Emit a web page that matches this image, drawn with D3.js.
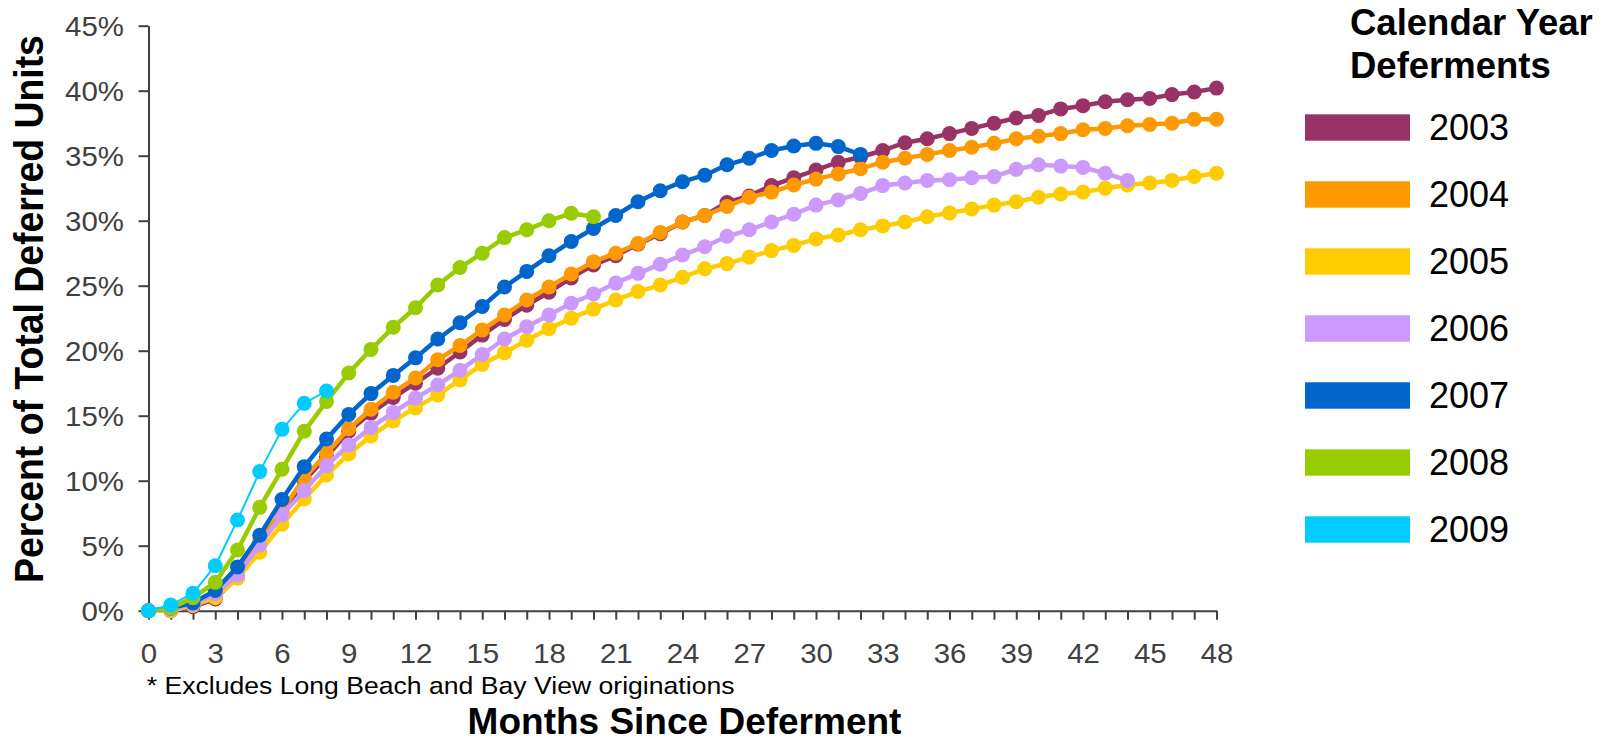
<!DOCTYPE html>
<html>
<head>
<meta charset="utf-8">
<script src="https://cdn.jsdelivr.net/npm/d3@7"></script>
<style>
  body { margin: 0; background: #fff; }
  text { font-family: "Liberation Sans", Arial, sans-serif; }
</style>
</head>
<body>
<div id="chart"></div>
<script>
// cumulative percent of total deferred units, one value per month since deferment
var years = ["2003", "2004", "2005", "2006", "2007", "2008", "2009"];

var pct2003 = [0, 0, 0.3, 0.9, 2.6, 5.2, 7.5, 10.0, 11.85, 13.8,
  15.2, 16.4, 17.5, 18.65, 19.9, 21.2, 22.4, 23.5, 24.5, 25.6,
  26.6, 27.3, 28.2, 29.0, 29.9, 30.4, 31.4, 31.9, 32.7, 33.3,
  33.9, 34.5, 34.9, 35.4, 36.0, 36.3, 36.7, 37.1, 37.5, 37.9,
  38.1, 38.6, 38.85, 39.15, 39.3, 39.4, 39.7, 39.9, 40.2];
var pct2004 = [0, 0.1, 0.45, 1.1, 2.8, 5.4, 7.7, 10.2, 12.1, 14.0,
  15.5, 16.8, 17.9, 19.3, 20.4, 21.6, 22.75, 23.9, 24.9, 25.9,
  26.85, 27.5, 28.25, 29.1, 29.9, 30.4, 31.1, 31.8, 32.2, 32.75,
  33.2, 33.6, 34.0, 34.5, 34.8, 35.1, 35.4, 35.65, 35.95, 36.3,
  36.5, 36.7, 37.0, 37.1, 37.3, 37.4, 37.5, 37.8, 37.8];
var pct2005 = [0, 0, 0.4, 1.0, 2.5, 4.5, 6.65, 8.6, 10.44, 12.05,
  13.44, 14.6, 15.6, 16.6, 17.75, 18.95, 19.85, 20.8, 21.7, 22.5,
  23.2, 23.9, 24.55, 25.05, 25.65, 26.3, 26.7, 27.2, 27.7, 28.1,
  28.6, 28.9, 29.3, 29.6, 29.9, 30.3, 30.6, 30.9, 31.2, 31.46,
  31.8, 32.05, 32.2, 32.5, 32.75, 32.9, 33.1, 33.4, 33.65];
var pct2006 = [0, 0.1, 0.5, 1.3, 2.75, 5.05, 7.36, 9.23, 11.15, 12.75,
  14.1, 15.25, 16.35, 17.36, 18.5, 19.7, 20.9, 21.85, 22.75, 23.65,
  24.36, 25.2, 25.95, 26.65, 27.36, 28.0, 28.8, 29.3, 29.9, 30.5,
  31.2, 31.6, 32.1, 32.7, 32.9, 33.1, 33.15, 33.3, 33.4, 33.95,
  34.3, 34.2, 34.1, 33.65, 33.1];
var pct2007 = [0, 0.2, 0.6, 1.55, 3.37, 5.8, 8.55, 11.08, 13.2, 15.1,
  16.7, 18.1, 19.45, 20.9, 22.15, 23.4, 24.9, 26.1, 27.3, 28.4,
  29.4, 30.4, 31.46, 32.3, 33.0, 33.5, 34.3, 34.8, 35.4, 35.75,
  35.95, 35.7, 35.1];
var pct2008 = [0, 0.2, 1.0, 2.18, 4.67, 7.95, 10.88, 13.8, 16.1, 18.28,
  20.1, 21.8, 23.3, 25.05, 26.4, 27.5, 28.7, 29.3, 30.0, 30.57,
  30.3];
var pct2009 = [0, 0.44, 1.34, 3.46, 6.98, 10.7, 13.95, 15.95, 16.9];

var yTicks = [0, 5, 10, 15, 20, 25, 30, 35, 40, 45];
var monthTicks = d3.range(0, 49);

var colors = ["#993366", "#FF9900", "#FFCC00", "#CC99FF", "#0066CC", "#99CC00", "#00CCFF"];
var lineWidths = [4.5, 4.5, 4.5, 4.5, 4.5, 4.5, 2];

var series = [pct2003, pct2004, pct2005, pct2006, pct2007, pct2008, pct2009].map(function(v, i) {
  return {name: years[i], values: v, color: colors[i], width: lineWidths[i]};
});

var width = 1616, height = 742;
var stretch = "scale(1.09,1)";   // axis text in the original is a bit wide
var axisColor = "#404040";

var svg = d3.select("#chart").append("svg")
    .attr("width", width)
    .attr("height", height);

var x = d3.scaleLinear().domain([0, 48]).range([148.5, 1216.5]);
var y = d3.scaleLinear().domain([0, 45]).range([610.7, 25.7]);

// y axis
var yAxis = svg.append("g")
    .attr("transform", "translate(" + x(0) + ",0)")
    .call(d3.axisLeft(y).tickValues(yTicks).tickSize(10).tickSizeOuter(0)
      .tickFormat(function(d) { return d + "%"; }));
yAxis.selectAll("text")
    .attr("x", -22.5)
    .attr("dy", "0.36em")
    .attr("transform", stretch)
    .attr("fill", axisColor)
    .style("font-size", "27px");

// x axis, a tick every month, label every 3
var xAxis = svg.append("g")
    .attr("transform", "translate(0," + y(0) + ")")
    .call(d3.axisBottom(x).tickValues(monthTicks).tickSize(9).tickSizeOuter(0)
      .tickFormat(function(d) { return d % 3 === 0 ? d : ""; }));
xAxis.selectAll("text")
    .attr("y", 43)
    .attr("dy", "0.36em")
    .attr("transform", stretch)
    .attr("fill", axisColor)
    .style("font-size", "27px");

svg.selectAll(".domain, .tick line")
    .attr("stroke", axisColor)
    .attr("stroke-width", 2);

// series
var line = d3.line()
    .x(function(d, i) { return x(i); })
    .y(function(d) { return y(d); });

series.forEach(function(s) {
  var g = svg.append("g");
  g.append("path")
      .datum(s.values)
      .attr("fill", "none")
      .attr("stroke", s.color)
      .attr("stroke-width", s.width)
      .attr("stroke-linejoin", "round")
      .attr("d", line);
  g.selectAll("circle")
      .data(s.values)
      .enter().append("circle")
      .attr("cx", function(d, i) { return x(i); })
      .attr("cy", function(d) { return y(d); })
      .attr("r", 7.5)
      .attr("fill", s.color);
});

// titles
svg.append("text")
    .attr("transform", "translate(43.3,309) " + stretch + " rotate(-90)")
    .attr("text-anchor", "middle")
    .style("font-size", "37.4px")
    .style("font-weight", "bold")
    .text("Percent of Total Deferred Units");

svg.append("text")
    .attr("transform", "translate(684.5,734)")
    .attr("text-anchor", "middle")
    .style("font-size", "37px")
    .style("font-weight", "bold")
    .text("Months Since Deferment");

svg.append("text")
    .attr("transform", "translate(146.7,693.5) " + stretch)
    .style("font-size", "24.4px")
    .text("* Excludes Long Beach and Bay View originations");

// legend
var legend = svg.append("g");
legend.append("text")
    .attr("x", 1350)
    .attr("y", 34.5)
    .style("font-size", "36.5px")
    .style("font-weight", "bold")
    .text("Calendar Year");
legend.append("text")
    .attr("x", 1350)
    .attr("y", 77.5)
    .style("font-size", "36.5px")
    .style("font-weight", "bold")
    .text("Deferments");

var item = legend.selectAll(".item")
    .data(series)
    .enter().append("g")
    .attr("class", "item")
    .attr("transform", function(d, i) { return "translate(0," + (127.5 + i * 67) + ")"; });
item.append("rect")
    .attr("x", 1305)
    .attr("y", -13.2)
    .attr("width", 105)
    .attr("height", 26.4)
    .attr("fill", function(d) { return d.color; });
item.append("text")
    .attr("x", 1429)
    .attr("dy", "0.36em")
    .style("font-size", "36px")
    .text(function(d) { return d.name; });
</script>
</body>
</html>
